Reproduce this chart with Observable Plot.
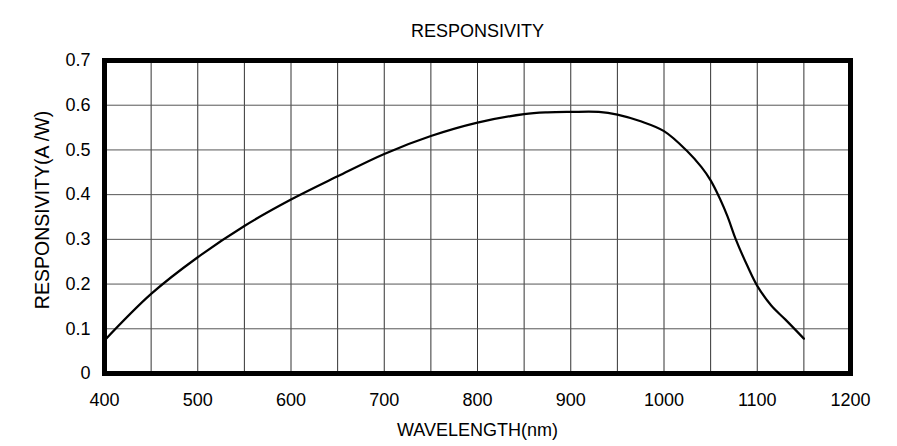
<!DOCTYPE html>
<html>
<head>
<meta charset="utf-8">
<script src="https://cdn.jsdelivr.net/npm/d3@7"></script>
<script src="https://cdn.jsdelivr.net/npm/@observablehq/plot@0.6"></script>
<style>
  html, body { margin: 0; padding: 0; background: #fff; }
  #chart svg { display: block; }
</style>
</head>
<body>
<div id="chart"></div>
<script>
const titleText = "RESPONSIVITY";
const xLabel = "WAVELENGTH(nm)";
const yLabel = "RESPONSIVITY(A /W)";

const wavelengths = [400, 450, 500, 550, 600, 650, 700, 750, 800, 850, 875, 900, 930, 950, 975, 1000, 1025, 1040, 1050, 1060, 1068, 1077, 1090, 1100, 1115, 1130, 1150];
const responsivity = [0.074, 0.178, 0.260, 0.330, 0.389, 0.441, 0.491, 0.531, 0.561, 0.580, 0.584, 0.585, 0.585, 0.579, 0.564, 0.542, 0.497, 0.462, 0.432, 0.391, 0.352, 0.300, 0.238, 0.196, 0.152, 0.121, 0.078];

const xTicks = [400, 500, 600, 700, 800, 900, 1000, 1100, 1200];
const xGrid = [450, 500, 550, 600, 650, 700, 750, 800, 850, 900, 950, 1000, 1050, 1100, 1150];
const yTicks = [0, 0.1, 0.2, 0.3, 0.4, 0.5, 0.6, 0.7];
const yGrid = [0.1, 0.2, 0.3, 0.4, 0.5, 0.6];

const data = wavelengths.map((w, i) => ({ w, r: responsivity[i] }));

const font = "'Liberation Sans', Arial, Helvetica, sans-serif";

const chart = Plot.plot({
  width: 897,
  height: 446,
  marginLeft: 104,
  marginRight: 47,
  marginTop: 60,
  marginBottom: 73,
  style: { fontFamily: font, fontSize: "18px", color: "#000", background: "#fff" },
  x: { domain: [400, 1200] },
  y: { domain: [0, 0.7] },
  marks: [
    Plot.gridX(xGrid, { stroke: "#333", strokeOpacity: 1, strokeWidth: 1 }),
    Plot.gridY(yGrid, { stroke: "#555", strokeOpacity: 1, strokeWidth: 1 }),
    Plot.axisX(xTicks, { tickSize: 0, tickPadding: 20, label: null, fontSize: 18, tickFormat: d => String(d) }),
    Plot.axisY(yTicks, { tickSize: 0, tickPadding: 14, label: null, fontSize: 18, tickFormat: d => String(d) }),
    Plot.line(data, { x: "w", y: "r", stroke: "#000", strokeWidth: 2.2, curve: "catmull-rom" }),
    Plot.frame({ stroke: "#000", strokeWidth: 5 }),
    Plot.text([titleText], { frameAnchor: "top", dy: -36, fontSize: 18, fill: "#000" }),
    Plot.text([xLabel], { frameAnchor: "bottom", dy: 62, fontSize: 18, fill: "#000" }),
    Plot.text([yLabel], { frameAnchor: "left", textAnchor: "middle", dx: -62, dy: -7, rotate: -90, fontSize: 19.5, fill: "#000" })
  ]
});

document.getElementById("chart").appendChild(chart);
</script>
</body>
</html>
